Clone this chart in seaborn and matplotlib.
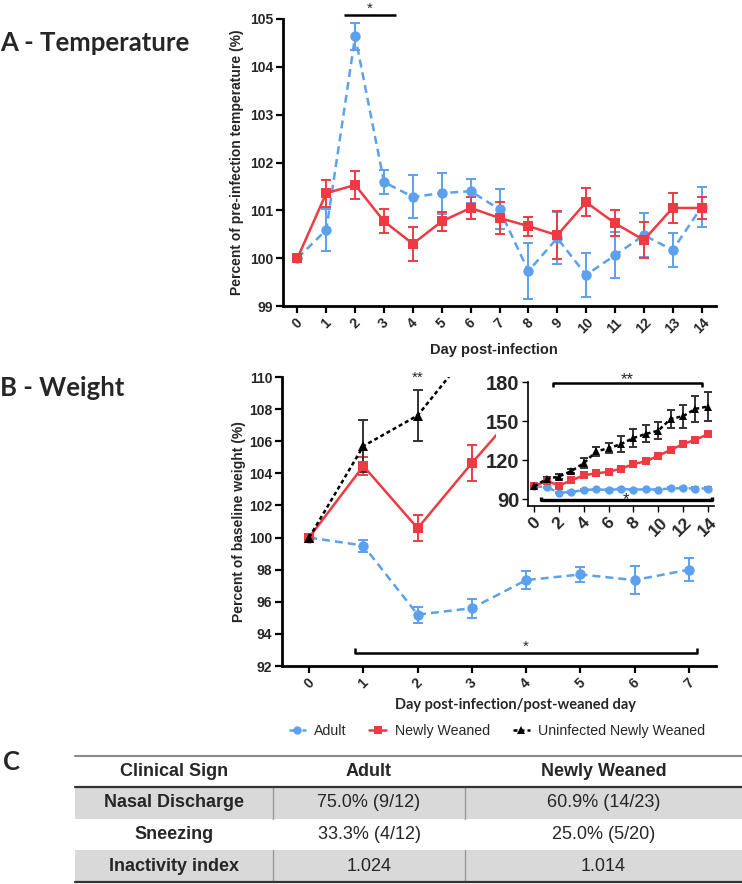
#!/usr/bin/env python3

import matplotlib
matplotlib.use("Agg")
import matplotlib.pyplot as plt
from matplotlib.lines import Line2D
from matplotlib.patches import Rectangle
import pandas as pd
import seaborn as sns

sns.set_theme(style="ticks")
plt.rcParams["font.family"] = ["Liberation Sans", "DejaVu Sans"]

W, H = 742, 884

groups = ["Adult", "Newly Weaned", "Uninfected Newly Weaned"]

# A - temperature (% of pre-infection)
temp_days = list(range(15))
temp_adult = [100, 100.59, 104.64, 101.59, 101.28, 101.36, 101.40, 101.02,
              99.73, 100.42, 99.65, 100.06, 100.48, 100.17, 101.07]
temp_adult_err = [0, 0.43, 0.28, 0.25, 0.45, 0.43, 0.25, 0.42,
                  0.58, 0.55, 0.46, 0.48, 0.46, 0.35, 0.42]
temp_weaned = [100, 101.36, 101.53, 100.77, 100.30, 100.77, 101.05, 100.84,
               100.67, 100.48, 101.17, 100.73, 100.38, 101.05, 101.05]
temp_weaned_err = [0, 0.28, 0.30, 0.25, 0.35, 0.20, 0.23, 0.33,
                   0.20, 0.50, 0.29, 0.27, 0.37, 0.31, 0.23]
temp_yticks = [99, 100, 101, 102, 103, 104, 105]

# B - weight (% of baseline)
weight_days = list(range(15))
weight_adult = [100, 99.5, 95.2, 95.6, 97.35, 97.7, 97.35, 98.0,
                97.6, 97.7, 97.6, 98.5, 98.6, 98.4, 98.4]
weight_adult_err = [0, 0.37, 0.5, 0.6, 0.58, 0.48, 0.85, 0.73,
                    0.7, 0.7, 0.7, 0.8, 0.8, 0.8, 0.8]
weight_weaned = [100, 104.46, 100.58, 104.64, 108.5, 110.1, 111.1, 113.7,
                 117.0, 119.3, 123.4, 128.0, 132.4, 135.8, 139.9]
weight_weaned_err = [0, 0.55, 0.8, 1.14, 1.2, 1.2, 1.3, 1.4,
                     1.5, 1.5, 1.7, 1.8, 2.0, 2.0, 2.2]
weight_uninf = [100, 105.7, 107.6, 111.8, 117.8, 126.8, 129.3, 132.4,
                137.1, 140.2, 142.7, 151.7, 153.8, 159.4, 161.2]
weight_uninf_err = [0, 1.6, 1.6, 1.5, 4.0, 3.5, 3.9, 6.0,
                    7.0, 6.5, 6.5, 7.2, 8.7, 10.0, 11.0]
main_weight_days = 8
weight_yticks = [92, 94, 96, 98, 100, 102, 104, 106, 108, 110]
inset_xticks = [0, 2, 4, 6, 8, 10, 12, 14]
inset_yticks = [90, 120, 150, 180]

# C - clinical signs table
table_header = ["Clinical Sign", "Adult", "Newly Weaned"]
table_signs = ["Nasal Discharge", "Sneezing", "Inactivity index"]
table_adult = ["75.0% (9/12)", "33.3% (4/12)", "1.024"]
table_weaned = ["60.9% (14/23)", "25.0% (5/20)", "1.014"]

colors = {"Adult": "#5BA1EE", "Newly Weaned": "#EE3B43",
          "Uninfected Newly Weaned": "#000000"}
err_colors = {"Adult": "#5BA1EE", "Newly Weaned": "#EE3B43",
              "Uninfected Newly Weaned": "#333333"}
markers = {"Adult": "o", "Newly Weaned": "s", "Uninfected Newly Weaned": "^"}
dashes = {"Adult": (3.2, 2.0), "Newly Weaned": "",
          "Uninfected Newly Weaned": (1.6, 1.2)}

CALIBRI = ["Lato", "DejaVu Sans"]


def px_axes(fig, left, top, right, bottom):
    return fig.add_axes([left / W, 1 - bottom / H, (right - left) / W,
                         (bottom - top) / H])


def draw_series(ax, days, values, errors, ms, capsize, lw=1.8):
    frames = []
    for g, vals in values.items():
        frames.append(pd.DataFrame({"day": days, "value": vals, "group": g}))
        ax.errorbar(days, vals, yerr=errors[g], fmt="none",
                    ecolor=err_colors[g], elinewidth=1.4, capsize=capsize,
                    capthick=1.4, zorder=1.5)
    df = pd.concat(frames, ignore_index=True)
    order = list(values)
    sns.lineplot(data=df, x="day", y="value", hue="group", style="group",
                 hue_order=order, style_order=order,
                 palette=colors, markers=markers, dashes=dashes,
                 ax=ax, legend=False, markersize=ms, linewidth=lw,
                 markeredgewidth=0, errorbar=None)


def style_axes(ax, xticks, yticks, xsize, ysize, spine_lw=2.0):
    sns.despine(ax=ax)
    for s in ["left", "bottom"]:
        ax.spines[s].set_linewidth(spine_lw)
        ax.spines[s].set_color("black")
    ax.set_xticks(xticks, [str(t) for t in xticks], rotation=45,
                  ha="center", fontsize=xsize, fontweight="bold")
    ax.set_yticks(yticks, [str(t) for t in yticks], fontsize=ysize,
                  fontweight="bold")
    ax.tick_params(width=1.6, length=5, color="black", pad=2)
    ax.set_facecolor("white")


def bracket(ax, x0, x1, y, tick, label, ty, size=11, lw=1.8):
    xs = [x0, x0, x1, x1] if tick else [x0, x1]
    ys = [y + tick, y, y, y + tick] if tick else [y, y]
    ax.plot(xs, ys, color="black", lw=lw, clip_on=False, solid_capstyle="butt")
    ax.text((x0 + x1) / 2, ty, label, ha="center", va="baseline",
            fontsize=size, clip_on=False)


fig = plt.figure(figsize=(W / 100, H / 100), dpi=100)

# ---------------- A ----------------
axA = px_axes(fig, 283, 19, 716, 306)
draw_series(axA, temp_days,
            {"Adult": temp_adult, "Newly Weaned": temp_weaned},
            {"Adult": temp_adult_err, "Newly Weaned": temp_weaned_err},
            ms=7.5, capsize=3.5)
axA.set_xlim(-0.5, 14.5)
axA.set_ylim(99, 105)
style_axes(axA, temp_days, temp_yticks, 10, 10)
axA.set_xlabel("Day post-infection", fontsize=10.5, fontweight="bold")
axA.set_ylabel("Percent of pre-infection temperature (%)", fontsize=10,
               fontweight="bold")
axA.xaxis.set_label_coords(0.488, -0.13)
axA.yaxis.set_label_coords(-0.09, 0.5)
bracket(axA, 1.6, 3.4, 105.09, 0, "*", 105.13)

# ---------------- B ----------------
axB = px_axes(fig, 282, 377, 716, 666)
n = main_weight_days
draw_series(axB, weight_days[:n],
            {"Adult": weight_adult[:n], "Newly Weaned": weight_weaned[:n],
             "Uninfected Newly Weaned": weight_uninf[:n]},
            {"Adult": weight_adult_err[:n], "Newly Weaned": weight_weaned_err[:n],
             "Uninfected Newly Weaned": weight_uninf_err[:n]},
            ms=7.5, capsize=3.5)
axB.set_xlim(-0.5, 7.5)
axB.set_ylim(92, 110)
style_axes(axB, weight_days[:n], weight_yticks, 10, 10)
axB.set_xlabel("Day post-infection/post-weaned day", fontsize=10.5,
               fontweight="bold", family=CALIBRI)
axB.set_ylabel("Percent of baseline weight (%)", fontsize=10,
               fontweight="bold")
axB.xaxis.set_label_coords(0.539, -0.11)
axB.yaxis.set_label_coords(-0.082, 0.5)
bracket(axB, 0.85, 7.15, 92.8, 0.35, "*", 92.95)
axB.text(2, 109.7, "**", ha="center", va="baseline", fontsize=11,
         clip_on=False)

# overlay for white box behind inset and the table
over = fig.add_axes([0, 0, 1, 1])
over.set_xlim(0, W)
over.set_ylim(H, 0)
over.axis("off")
over.set_zorder(0.5)
over.add_patch(Rectangle((496, 360), 240, 172, facecolor="white",
                         edgecolor="none"))

# ---------------- inset ----------------
axI = px_axes(fig, 528, 382, 714, 506)
axI.set_zorder(1)
draw_series(axI, weight_days,
            {"Adult": weight_adult, "Newly Weaned": weight_weaned,
             "Uninfected Newly Weaned": weight_uninf},
            {"Adult": weight_adult_err, "Newly Weaned": weight_weaned_err,
             "Uninfected Newly Weaned": weight_uninf_err},
            ms=6, capsize=3, lw=1.8)
axI.set_xlim(-0.5, 14.5)
axI.set_ylim(85, 180)
style_axes(axI, inset_xticks, inset_yticks, 12.5, 14.5, spine_lw=1.2)
axI.tick_params(width=1.0, length=4)
axI.set_xlabel("")
axI.set_ylabel("")
bracket(axI, 1.5, 13.5, 179.5, -3, "**", 178.5, size=12)
bracket(axI, 0.55, 14.3, 89.5, 2.5, "*", 86.5, size=12, lw=2.4)

# legend
handles = [Line2D([], [], color=colors[g], marker=markers[g], markersize=6,
                  lw=1.8, markeredgewidth=0,
                  dashes=dashes[g] if dashes[g] else (None, None))
           for g in groups]
fig.legend(handles, groups, loc="center", bbox_to_anchor=(497 / W, 1 - 731 / H),
           ncol=3, frameon=False, handlelength=1.2, handletextpad=0.6,
           columnspacing=1.6, prop={"size": 10.2})

# panel labels
fig.text(0.0, 1 - 43 / H, "A - Temperature", fontsize=18.5, fontweight="bold",
         family=CALIBRI, va="center")
fig.text(0.0, 1 - 388 / H, "B - Weight", fontsize=18.5, fontweight="bold",
         family=CALIBRI, va="center")
fig.text(0.004, 1 - 762 / H, "C", fontsize=18.5, fontweight="bold",
         family=CALIBRI, va="center")

# ---------------- C table ----------------
col_edges = [75, 273, 465, 742]
header_top, header_bot = 756, 787
row_h = (882 - header_bot) / len(table_signs)
cols = [table_signs, table_adult, table_weaned]

over.plot([col_edges[0], col_edges[-1]], [header_top, header_top],
          color="#8a8a8a", lw=1.5)
for c in range(3):
    over.text((col_edges[c] + col_edges[c + 1]) / 2,
              (header_top + header_bot) / 2, table_header[c], ha="center",
              va="center", fontsize=13, fontweight="bold")
for r in range(len(table_signs)):
    top = header_bot + r * row_h
    if r % 2 == 0:
        over.add_patch(Rectangle((col_edges[0], top), col_edges[-1] - col_edges[0],
                                 row_h, facecolor="#D9D9D9", edgecolor="none"))
        for x in col_edges[1:3]:
            over.plot([x, x], [top, top + row_h], color="#9a9a9a", lw=1.0)
    for c in range(3):
        over.text((col_edges[c] + col_edges[c + 1]) / 2, top + row_h / 2,
                  cols[c][r], ha="center", va="center", fontsize=13,
                  fontweight="bold" if c == 0 else "normal")
over.plot([col_edges[0], col_edges[-1]], [header_bot, header_bot],
          color="#333333", lw=1.6)
over.plot([col_edges[0], col_edges[-1]], [882, 882], color="#333333", lw=1.6)

fig.savefig("out.png", dpi=100, facecolor="white")
